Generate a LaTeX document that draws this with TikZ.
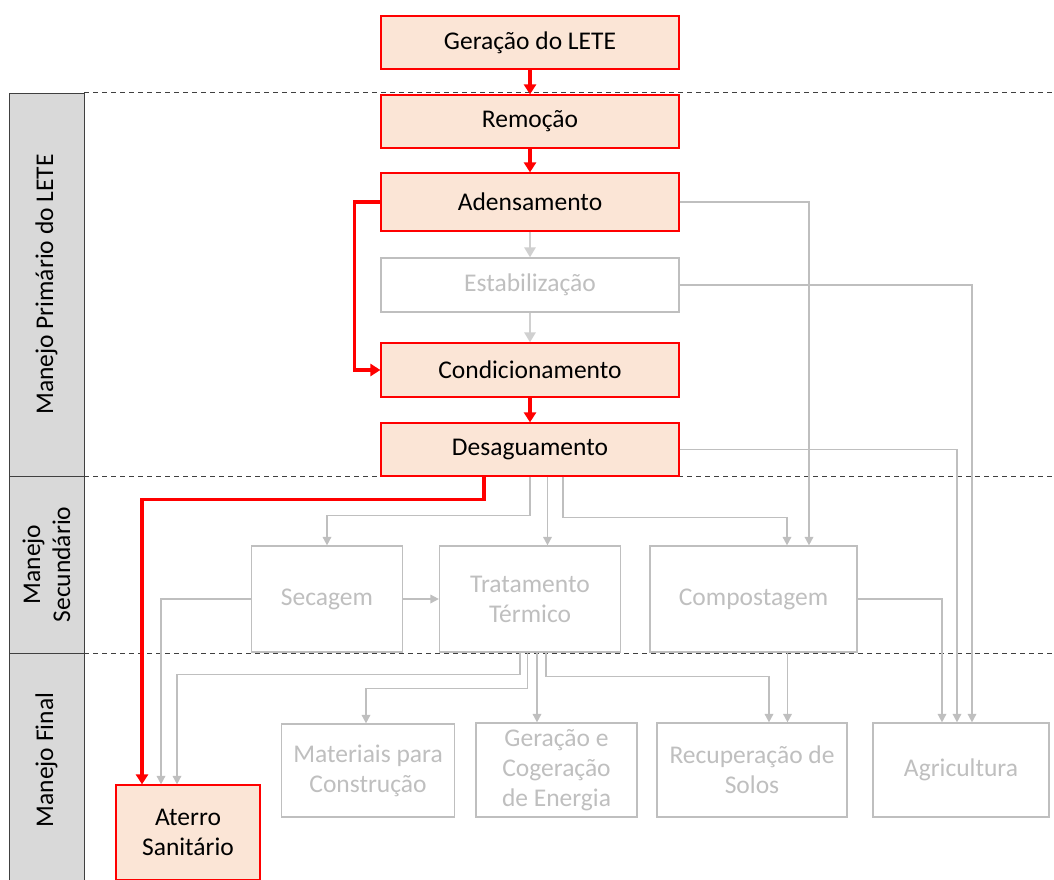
\documentclass[tikz,border=0pt]{standalone}
\usepackage{fontspec}
\setmainfont{Carlito}
\usetikzlibrary{arrows.meta}
\definecolor{boxfill}{HTML}{FBE5D6}
\definecolor{ltgray}{HTML}{BFBFBF}
\definecolor{vltgray}{HTML}{D0D0D0}
\definecolor{bandfill}{HTML}{D9D9D9}
\definecolor{dashcol}{HTML}{404040}
\begin{document}
\begin{tikzpicture}[x=1pt,y=-1pt,
  every node/.style={font=\fontsize{25.5}{30}\selectfont, inner sep=0pt, align=center},
  redbox/.style={draw=red, line width=1.2pt, fill=boxfill, text=black, minimum width=298pt},
  graybox/.style={draw=ltgray, line width=1.2pt, fill=white, text=ltgray},
  redarr/.style={draw=red, line width=3.6pt, -{Triangle[width=12pt,length=10pt]}},
  grayarr/.style={draw=ltgray, line width=1.7pt, -{Triangle[width=8.5pt,length=8.5pt]}},
  lgarr/.style={draw=vltgray, line width=2.8pt, -{Triangle[width=11pt,length=10pt]}},
  band/.style={draw=dashcol, line width=0.8pt, fill=bandfill},
  sep/.style={draw=dashcol, line width=1pt, dash pattern=on 5pt off 4pt}
]
\useasboundingbox (0,0) rectangle (1054,880);
% bands
\draw[band] (9,93) rectangle (84,476);
\draw[band] (9,476) rectangle (84,653);
\draw[band] (9,653) rectangle (84,900);
\node[rotate=90] (lp) at (46.5,284.5) {Manejo Primário do LETE};
\node[rotate=90] (ls) at (46.5,564.5) {Manejo\\Secundário};
\node[rotate=90] (lf) at (46.5,760) {Manejo Final};
% separators
\coordinate (s1a) at (84,93); \coordinate (s1b) at (1054,93);
\coordinate (s2a) at (84,476); \coordinate (s2b) at (1054,476);
\coordinate (s3a) at (84,653); \coordinate (s3b) at (1054,653);
\draw[sep] (s1a) -- (s1b);
\draw[sep] (s2a) -- (s2b);
\draw[sep] (s3a) -- (s3b);
% primary nodes
\node[redbox, minimum height=53pt] (gen) at (530,42.5) {Geração do LETE};
\node[redbox, minimum height=53pt] (rem) at (530,121.5) {Remoção};
\node[redbox, minimum height=58pt] (ade) at (530,202) {Adensamento};
\node[graybox, minimum width=298pt, minimum height=54pt] (est) at (530,285) {Estabilização};
\node[redbox, minimum height=54pt] (con) at (530,370) {Condicionamento};
\node[redbox, minimum height=53pt] (des) at (530,449.5) {Desaguamento};
% secondary
\node[graybox, minimum width=151pt, minimum height=106pt] (sec) at (327,599) {Secagem};
\node[graybox, minimum width=181pt, minimum height=106pt] (tra) at (530,599) {Tratamento\\Térmico};
\node[graybox, minimum width=207pt, minimum height=106pt] (com) at (753.5,599) {Compostagem};
% final
\node[graybox, minimum width=173pt, minimum height=93pt] (mat) at (368,770.5) {Materiais para\\Construção};
\node[graybox, minimum width=161pt, minimum height=94pt] (cog) at (556.5,770) {Geração e\\Cogeração\\de Energia};
\node[graybox, minimum width=190pt, minimum height=94pt] (rec) at (752,770) {Recuperação de\\Solos};
\node[graybox, minimum width=176pt, minimum height=94pt] (agr) at (961,770) {Agricultura};
\node[redbox, minimum width=144pt, minimum height=95pt] (ate) at (188,832.5) {Aterro\\Sanitário};
% red path
\draw[redarr] (gen) -- (rem);
\draw[redarr] (rem) -- (ade);
\draw[redarr] (con) -- (des);
\draw[redarr] (ade.west) -- ++(-26,0) |- (con.west);
% gray primary
\draw[lgarr] (ade) -- (est);
\draw[lgarr] (est) -- (con);
\draw[grayarr] (ade.east) -| ([xshift=55.5pt]com.north);
\draw[grayarr] (est.east) -| ([xshift=11pt]agr.north);
\draw[grayarr] (des.east) -| ([xshift=-4pt]agr.north);
% from desaguamento
\draw[grayarr] (des.south) -- ++(0,39) -| (sec.north);
\draw[grayarr] ([xshift=17.5pt]des.south) -- ([xshift=17.5pt]tra.north);
\draw[grayarr] ([xshift=33pt]des.south) -- ++(0,41) -| ([xshift=33.5pt]com.north);
\draw[redarr] ([xshift=-46pt]des.south) -- ++(0,23) -| ([xshift=-46pt]ate.north);
% secondary connectors
\draw[grayarr] (sec.east) -- (tra.west);
\draw[grayarr] (sec.west) -| ([xshift=-27pt]ate.north);
\draw[grayarr] ([xshift=-10pt]tra.south) -- ++(0,22) -| ([xshift=-11pt]ate.north);
\draw[grayarr] ([xshift=-2.5pt]tra.south) -- ++(0,36) -| ([xshift=-2pt]mat.north);
\draw[grayarr] ([xshift=7pt]tra.south) -- ([xshift=7pt]tra.south |- cog.north);
\draw[grayarr] ([xshift=16pt]tra.south) -- ++(0,24) -| ([xshift=17pt]rec.north);
\draw[grayarr] ([xshift=34pt]com.south) -- ([xshift=34pt]com.south |- rec.north);
\draw[grayarr] (com.east) -| ([xshift=-19pt]agr.north);
\end{tikzpicture}
\end{document}
